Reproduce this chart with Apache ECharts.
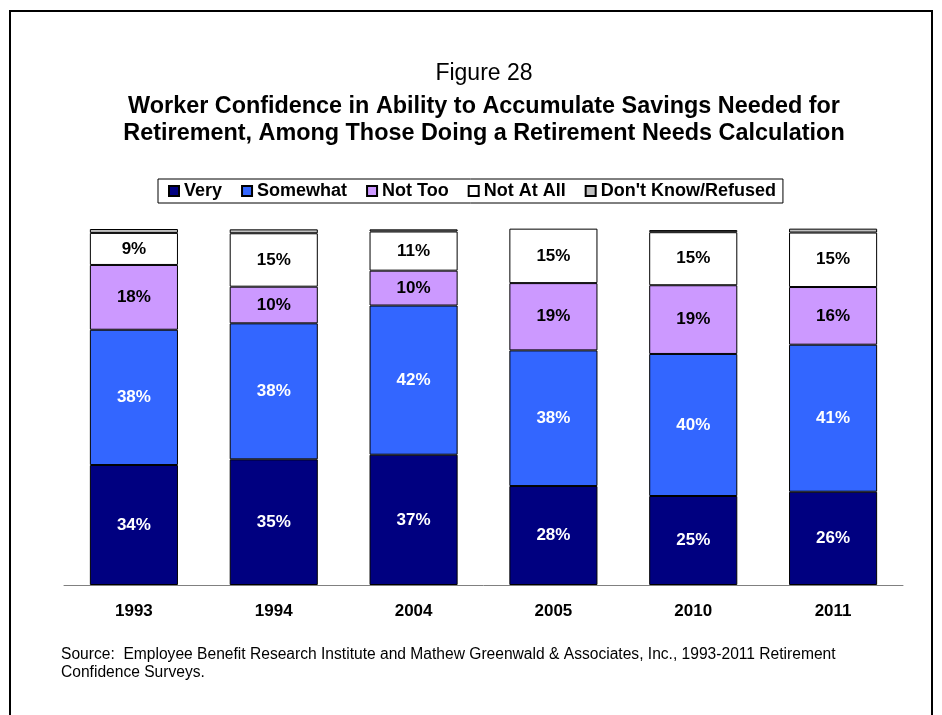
<!DOCTYPE html>
<html>
<head>
<meta charset="utf-8">
<script src="https://cdn.jsdelivr.net/npm/echarts@6/dist/echarts.min.js"></script>
<style>
html,body{margin:0;padding:0;background:#fff;}
#chart{width:942px;height:715px;}
</style>
</head>
<body>
<div id="chart"></div>
<script>
var categories = ['1993', '1994', '2004', '2005', '2010', '2011'];
var very       = [33.7, 35.3, 36.6, 27.8, 25.0, 26.2];
var somewhat   = [38.0, 38.2, 41.9, 38.1, 39.9, 41.3];
var notToo     = [18.2, 10.3, 9.8, 18.9, 19.3, 16.2];
var notAtAll   = [9.0, 15.0, 11.0, 15.3, 14.9, 15.3];
var dontKnow   = [1.1, 1.1, 0.6, 0.0, 0.6, 1.1];
var seriesNames = ['Very', 'Somewhat', 'Not Too', 'Not At All', "Don't Know/Refused"];

var FONT = '"Liberation Sans", Arial, sans-serif';
var chart = echarts.init(document.getElementById('chart'), null, {renderer: 'canvas'});

function mk(name, data, color, labelColor, showLabel) {
  return {
    name: name,
    type: 'bar',
    stack: 'total',
    data: data,
    barWidth: '63%',
    itemStyle: {color: color, borderColor: '#000', borderWidth: 1},
    label: {
      show: showLabel,
      position: 'inside',
      color: labelColor,
      fontFamily: FONT,
      fontWeight: 'bold',
      fontSize: 17,
      formatter: function (p) { return Math.round(p.value) + '%'; }
    },
    emphasis: {disabled: true}
  };
}

chart.setOption({
  backgroundColor: '#fff',
  animation: false,
  title: [
    {
      text: 'Figure 28',
      left: 479,
      textAlign: 'center',
      top: 57,
      textStyle: {fontFamily: FONT, fontWeight: 'normal', fontSize: 23, color: '#000'}
    },
    {
      text: 'Worker Confidence in Ability to Accumulate Savings Needed for\nRetirement, Among Those Doing a Retirement Needs Calculation',
      left: 479,
      textAlign: 'center',
      top: 88,
      textStyle: {fontFamily: FONT, fontWeight: 'bold', fontSize: 23.4, lineHeight: 27, color: '#000', align: 'center'}
    }
  ],
  legend: {
    data: seriesNames,
    left: 158,
    top: 179,
    orient: 'horizontal',
    icon: 'rect',
    itemWidth: 10,
    itemHeight: 10,
    itemGap: 19,
    padding: [3, 7, 3, 10],
    borderColor: '#000',
    borderWidth: 1,
    selectedMode: false,
    textStyle: {fontFamily: FONT, fontWeight: 'bold', fontSize: 18, color: '#000'}
  },
  grid: {left: 64, right: 39, top: 229, bottom: 130},
  xAxis: {
    type: 'category',
    data: categories,
    axisLine: {lineStyle: {color: '#808080', width: 1}},
    axisTick: {show: false},
    axisLabel: {fontFamily: FONT, fontWeight: 'bold', fontSize: 17, color: '#000', margin: 18}
  },
  yAxis: {
    type: 'value',
    min: 0,
    max: 100,
    show: false,
    splitLine: {show: false}
  },
  graphic: [
    {
      type: 'rect',
      shape: {x: 10, y: 11, width: 922, height: 720},
      style: {fill: 'none', stroke: '#000', lineWidth: 2},
      silent: true
    },
    {
      type: 'text',
      left: 61,
      top: 646,
      style: {
        text: 'Source:  Employee Benefit Research Institute and Mathew Greenwald & Associates, Inc., 1993-2011 Retirement\nConfidence Surveys.',
        font: '15.6px ' + FONT,
        fill: '#000',
        lineHeight: 18
      },
      silent: true
    }
  ],
  series: [
    mk(seriesNames[0], very, '#000080', '#fff', true),
    mk(seriesNames[1], somewhat, '#3366FF', '#fff', true),
    mk(seriesNames[2], notToo, '#CC99FF', '#000', true),
    mk(seriesNames[3], notAtAll, '#FFFFFF', '#000', true),
    mk(seriesNames[4], dontKnow, '#C0C0C0', '#000', false)
  ]
});
</script>
</body>
</html>
